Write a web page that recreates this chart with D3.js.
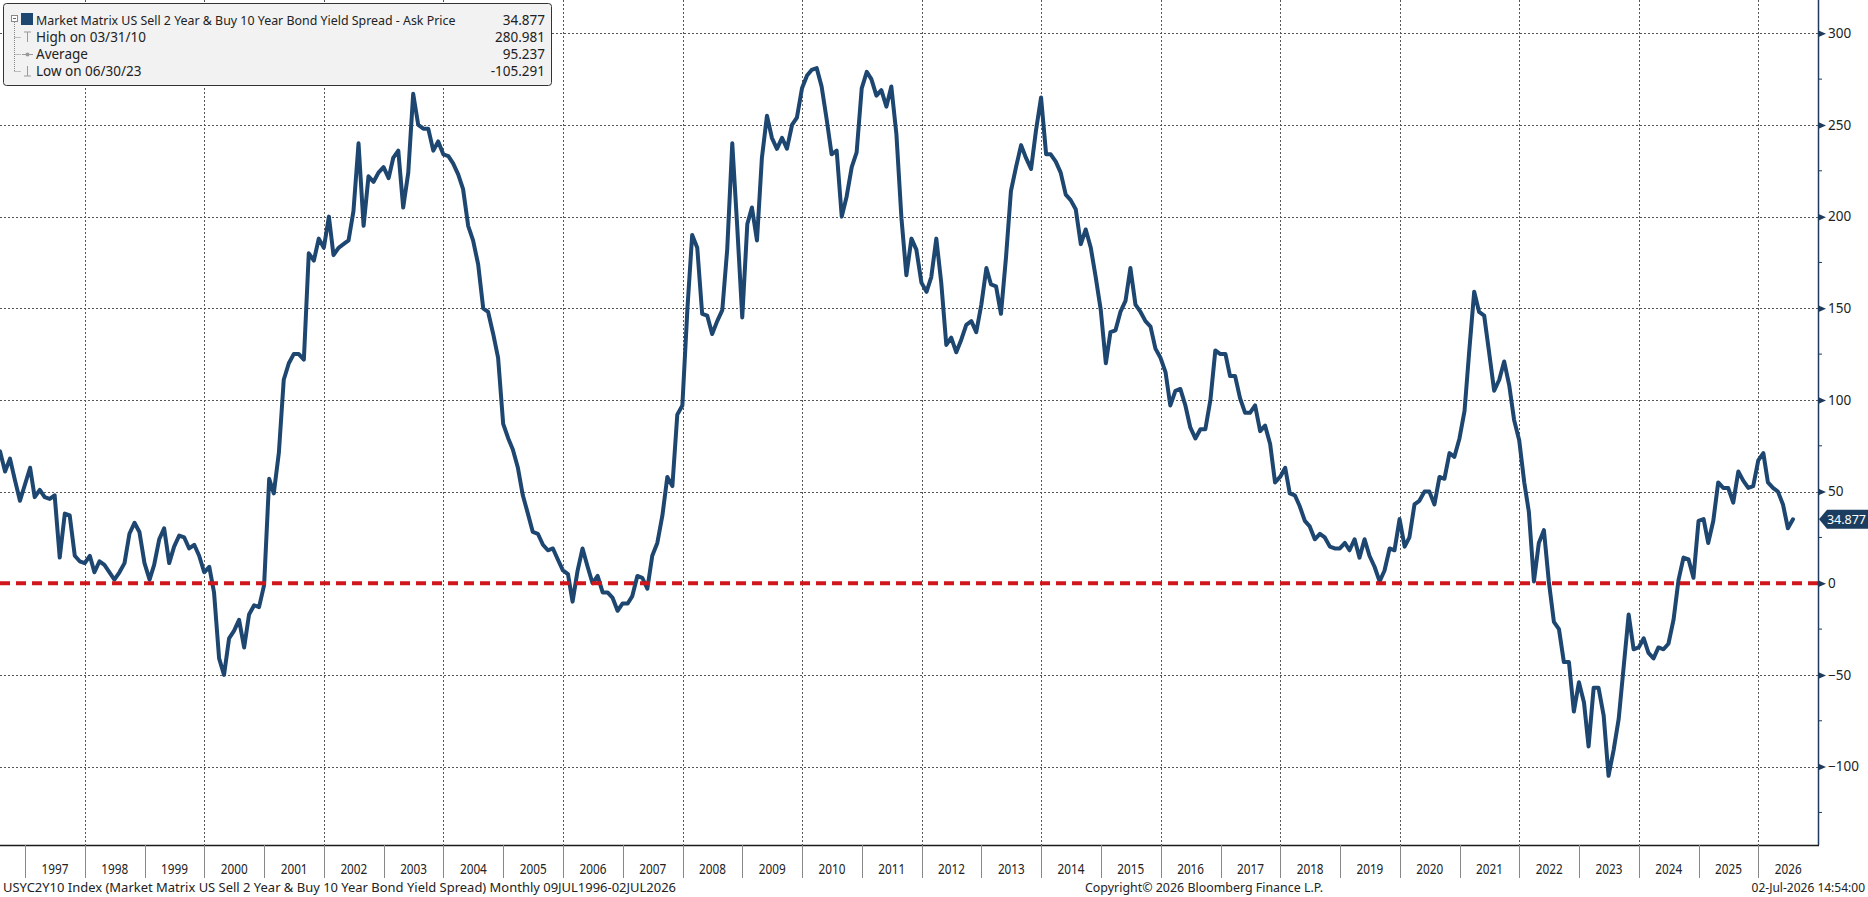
<!DOCTYPE html>
<html><head><meta charset="utf-8">
<script src="https://cdn.jsdelivr.net/npm/d3@7"></script>
<style>
html,body{margin:0;padding:0;background:#fff;}
svg{display:block;font-family:"Noto Sans",sans-serif;}
</style></head><body>
<svg id="chart" width="1868" height="897"></svg>
<script>
// ---------- DATA (month-end values, bp) ----------
const firstYear = 1996, firstMonth = 6; // series starts July 1996
const v1996 = [72, 61, 68, 56, 45, 54];
const v1997 = [63, 47, 51, 47, 46, 48, 14, 38, 37, 15, 12, 11];
const v1998 = [15, 6, 12, 10, 6, 2, 6, 11, 27, 33, 28, 11];
const v1999 = [2, 10, 24, 30, 11, 20, 26, 25, 19, 21, 15, 6];
const v2000 = [9, -5, -41, -50, -30, -26, -20, -35, -17, -12, -13, -1];
const v2001 = [57, 49, 71, 111, 120, 125, 125, 122, 180, 176, 188, 183];
const v2002 = [200, 179, 183, 185, 187, 203, 240, 195, 222, 219, 224, 227];
const v2003 = [221, 232, 236, 205, 224, 267, 250, 248, 248, 236, 241, 234];
const v2004 = [233, 229, 223, 215, 195, 187, 174, 150, 148, 136, 123, 87];
const v2005 = [79, 73, 63, 48, 38, 28, 27, 21, 18, 19, 13, 7];
const v2006 = [5, -10, 7, 19, 9, 0, 4, -5, -5, -8, -15, -11];
const v2007 = [-11, -7, 4, 3, -3, 15, 22, 37, 58, 53, 92, 97];
const v2008 = [150, 190, 183, 147, 146, 136, 143, 149, 182, 240, 195, 145];
const v2009 = [196, 205, 187, 232, 255, 243, 237, 243, 237, 250, 254, 270];
const v2010 = [277, 280, 281, 271, 253, 234, 236, 200, 211, 227, 235, 270];
const v2011 = [279, 275, 266, 269, 260, 271, 245, 199, 168, 188, 182, 164];
const v2012 = [159, 167, 188, 164, 130, 134, 126, 133, 141, 143, 137, 152];
const v2013 = [172, 163, 162, 147, 178, 214, 227, 239, 232, 226, 247, 265];
const v2014 = [234, 234, 230, 224, 212, 209, 204, 185, 193, 183, 167, 149];
const v2015 = [120, 137, 138, 148, 154, 172, 152, 148, 143, 140, 128, 123];
const v2016 = [115, 97, 105, 106, 97, 85, 79, 84, 84, 100, 127, 125];
const v2017 = [125, 113, 113, 101, 93, 93, 97, 83, 86, 76, 55, 58];
const v2018 = [63, 49, 48, 42, 34, 31, 24, 27, 25, 20, 19, 19];
const v2019 = [22, 18, 24, 14, 24, 15, 9, 1, 7, 19, 18, 35];
const v2020 = [20, 25, 43, 45, 50, 50, 43, 58, 57, 71, 69, 79];
const v2021 = [94, 126, 159, 148, 146, 126, 105, 111, 121, 108, 89, 78];
const v2022 = [55, 39, 1, 22, 29, 1, -21, -25, -43, -43, -70, -54];
const v2023 = [-65, -89, -57, -57, -72, -105, -91, -74, -46, -17, -36, -35];
const v2024 = [-30, -38, -41, -35, -36, -33, -20, 2, 14, 13, 3, 34];
const v2025 = [35, 22, 34, 55, 52, 52, 44, 61, 56, 52, 53, 67];
const v2026 = [71, 55, 52, 50, 43, 30, 34.877];

const yearlyValues = [v1996, v1997, v1998, v1999, v2000, v2001, v2002, v2003, v2004, v2005,
  v2006, v2007, v2008, v2009, v2010, v2011, v2012, v2013, v2014, v2015, v2016, v2017,
  v2018, v2019, v2020, v2021, v2022, v2023, v2024, v2025, v2026];

const yTickValues = [-100, -50, 0, 50, 100, 150, 200, 250, 300];
const yMinorValues = [-125, -75, -25, 25, 75, 125, 175, 225, 275];
const yearLabels = d3.range(1997, 2027);
const gridYears = d3.range(1998, 2027, 2);

const legendLabels = ["Market Matrix US Sell 2 Year & Buy 10 Year Bond Yield Spread - Ask Price",
  "High on 03/31/10", "Average", "Low on 06/30/23"];
const legendValues = ["34.877", "280.981", "95.237", "-105.291"];
const lastValueLabel = "34.877";
const footerLeft = "USYC2Y10 Index (Market Matrix US Sell 2 Year & Buy 10 Year Bond Yield Spread) Monthly 09JUL1996-02JUL2026";
const footerMid = "Copyright\u00A9 2026 Bloomberg Finance L.P.";
const footerRight = "02-Jul-2026 14:54:00";

// ---------- BUILD ----------
const data = [];
let k = 0;
yearlyValues.forEach(arr => arr.forEach(v => {
  data.push({date: new Date(firstYear, firstMonth + k + 1, 0), value: v});
  k++;
}));

const svg = d3.select("#chart");
const navy = "#1d4670";
const axisCol = "#1e3a5c";
const plotR = 1818, plotB = 845;

const x = d3.scaleTime().domain([new Date(1996, 6, 31), new Date(2026, 11, 31)]).range([0, plotR]);
const y = d3.scaleLinear().domain([-100, 300]).range([766.6, 33.3]);

function condense(sel, f) {
  sel.each(function() {
    const L = this.getComputedTextLength();
    d3.select(this).attr("textLength", L * f).attr("lengthAdjust", "spacingAndGlyphs");
  });
}

// grid
const grid = svg.append("g");
grid.selectAll("line.h").data(yTickValues.filter(d => d !== 0)).join("line")
  .attr("x1", 0).attr("x2", plotR).attr("y1", d => Math.round(y(d)) + 0.5).attr("y2", d => Math.round(y(d)) + 0.5)
  .attr("stroke", "#555").attr("stroke-width", 1).attr("stroke-dasharray", "2,2");
grid.selectAll("line.v").data(gridYears).join("line")
  .attr("x1", d => Math.round(x(new Date(d, 0, 1))) + 0.5).attr("x2", d => Math.round(x(new Date(d, 0, 1))) + 0.5)
  .attr("y1", 0).attr("y2", plotB)
  .attr("stroke", "#555").attr("stroke-width", 1).attr("stroke-dasharray", "2,2");

// series
const line = d3.line().x(d => x(d.date)).y(d => y(d.value));
svg.append("path").datum(data).attr("d", line)
  .attr("fill", "none").attr("stroke", navy).attr("stroke-width", 4)
  .attr("stroke-linejoin", "round").attr("stroke-linecap", "round");

// zero line
svg.append("line").attr("x1", 0).attr("x2", plotR).attr("y1", y(0)).attr("y2", y(0))
  .attr("stroke", "#d0161b").attr("stroke-width", 4).attr("stroke-dasharray", "10,6");

// right axis
const yAxis = d3.axisRight(y).tickValues(yTickValues).tickSize(0).tickPadding(10)
  .tickFormat(d3.format("d"));
const ga = svg.append("g").attr("transform", `translate(${plotR},0)`).call(yAxis);
ga.select(".domain").remove();
ga.selectAll(".tick text").attr("fill", "#222").style("font-size", "13.5px")
  .style("font-family", "'Noto Sans',sans-serif");
ga.selectAll(".tick").append("path").attr("d", "M0,-3.5L8,0L0,3.5Z").attr("fill", axisCol);
ga.selectAll("line.minor").data(yMinorValues).join("line")
  .attr("x1", 0).attr("x2", 4).attr("y1", d => y(d)).attr("y2", d => y(d))
  .attr("stroke", axisCol).attr("stroke-width", 1);
svg.append("line").attr("x1", plotR + 0.5).attr("x2", plotR + 0.5).attr("y1", 0).attr("y2", plotB)
  .attr("stroke", axisCol).attr("stroke-width", 1.5);

// last value tag
const ly = y(data[data.length - 1].value);
svg.append("path")
  .attr("d", `M${plotR + 1},${ly}L${plotR + 9},${ly - 9.5}L1868,${ly - 9.5}L1868,${ly + 9.5}L${plotR + 9},${ly + 9.5}Z`)
  .attr("fill", "#1b3d60");
svg.append("text").attr("x", 1866).attr("y", ly).attr("dy", "0.36em").attr("text-anchor", "end")
  .attr("fill", "#fff").style("font-size", "12.5px").text(lastValueLabel);

// bottom axis
svg.append("line").attr("x1", 0).attr("x2", plotR + 1).attr("y1", plotB + 0.5).attr("y2", plotB + 0.5)
  .attr("stroke", "#1a1a1a").attr("stroke-width", 1.5);
svg.selectAll("line.yd").data(yearLabels).join("line")
  .attr("x1", d => Math.round(x(new Date(d, 0, 1))) + 0.5).attr("x2", d => Math.round(x(new Date(d, 0, 1))) + 0.5)
  .attr("y1", plotB).attr("y2", 878).attr("stroke", "#888").attr("stroke-width", 1);
const yl = svg.selectAll("text.yl").data(yearLabels).join("text")
  .attr("x", d => (x(new Date(d, 0, 1)) + Math.min(plotR, x(new Date(d + 1, 0, 1)))) / 2)
  .attr("y", 874).attr("text-anchor", "middle").attr("fill", "#222")
  .style("font-size", "14px").text(d => d);
condense(yl, 0.84);

// footer
svg.append("text").attr("x", 3).attr("y", 892).attr("fill", "#222").style("font-size", "13px")
  .attr("textLength", 673).attr("lengthAdjust", "spacingAndGlyphs").text(footerLeft);
svg.append("text").attr("x", 1085).attr("y", 892).attr("fill", "#222").style("font-size", "13px")
  .attr("textLength", 238).attr("lengthAdjust", "spacingAndGlyphs").text(footerMid);
svg.append("text").attr("x", 1865).attr("y", 892).attr("text-anchor", "end").attr("fill", "#222")
  .style("font-size", "12px").text(footerRight);

// legend
const lg = svg.append("g");
lg.append("rect").attr("x", 3.5).attr("y", 3.5).attr("width", 548).attr("height", 82).attr("rx", 3)
  .attr("fill", "#f2f2f2").attr("stroke", "#333").attr("stroke-width", 1);
const rowY = [20, 37, 54, 71];
// tree
lg.append("line").attr("x1", 14.5).attr("x2", 14.5).attr("y1", 22).attr("y2", rowY[3])
  .attr("stroke", "#888").attr("stroke-dasharray", "1,1");
rowY.slice(1).forEach(r => lg.append("line").attr("x1", 14.5).attr("x2", 21).attr("y1", r + 0.5).attr("y2", r + 0.5)
  .attr("stroke", "#888").attr("stroke-dasharray", "1,1"));
lg.append("rect").attr("x", 11.5).attr("y", 15.5).attr("width", 6).attr("height", 6)
  .attr("fill", "#fff").attr("stroke", "#888");
lg.append("line").attr("x1", 13).attr("x2", 16).attr("y1", 18.5).attr("y2", 18.5).attr("stroke", "#666");
lg.append("rect").attr("x", 21).attr("y", 13).attr("width", 12).attr("height", 12).attr("fill", navy);
// high
lg.append("path").attr("d", `M24,${rowY[1] - 5}H31M27.5,${rowY[1] - 5}V${rowY[1] + 5}`).attr("stroke", "#999").attr("fill", "none");
// average
lg.append("path").attr("d", `M22,${rowY[2] + 0.5}H33`).attr("stroke", "#999");
lg.append("circle").attr("cx", 27.5).attr("cy", rowY[2] + 0.5).attr("r", 2).attr("fill", "#999");
// low
lg.append("path").attr("d", `M27.5,${rowY[3] - 5}V${rowY[3] + 5}M24,${rowY[3] + 5}H31`).attr("stroke", "#999").attr("fill", "none");

lg.selectAll("text.ll").data(legendLabels).join("text")
  .attr("x", 36).attr("y", (d, i) => rowY[i] + 5).attr("fill", "#222")
  .style("font-size", (d, i) => i === 0 ? "12.4px" : "13.5px").text(d => d);
lg.selectAll("text.lv").data(legendValues).join("text")
  .attr("x", 545).attr("y", (d, i) => rowY[i] + 5).attr("text-anchor", "end").attr("fill", "#222")
  .style("font-size", "13.5px").text(d => d);
</script>
</body></html>
